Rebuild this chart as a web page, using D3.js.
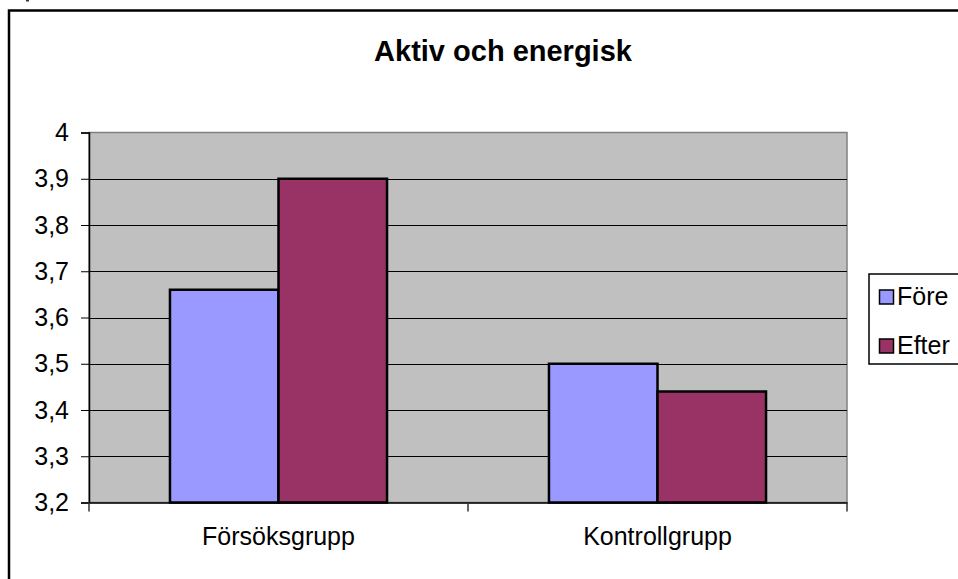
<!DOCTYPE html>
<html><head><meta charset="utf-8">
<script src="https://cdn.jsdelivr.net/npm/d3@7"></script>
<style>body{margin:0;background:#fff;} svg{display:block;font-family:"Liberation Sans",Arial,sans-serif;}</style>
</head><body>
<script>
const title = "Aktiv och energisk";
const categories = ["Försöksgrupp", "Kontrollgrupp"];
const series = ["Före", "Efter"];
const foreValues = [3.66, 3.50];
const efterValues = [3.90, 3.44];
const yTicks = [3.2, 3.3, 3.4, 3.5, 3.6, 3.7, 3.8, 3.9, 4];
const colors = ["#9999FF", "#993366"];

const W = 958, H = 579;
const svg = d3.select("body").append("svg").attr("width", W).attr("height", H);

// outer chart border
svg.append("rect").attr("x", 9).attr("y", 10.5).attr("width", 960).attr("height", 580)
  .attr("fill", "#fff").attr("stroke", "#000").attr("stroke-width", 2.5);
svg.append("line").attr("x1", 26).attr("x2", 29).attr("y1", 0.5).attr("y2", 0.5).attr("stroke", "#333").attr("stroke-width", 2);

const L = 89, R = 847, T = 132.5, B = 502.5;
const y = d3.scaleLinear().domain([3.2, 4]).range([B, T]);
const x0 = d3.scaleBand().domain(categories).range([L, R]).padding(0);
const x1 = d3.scaleBand().domain(series).range([0, x0.bandwidth()]).paddingInner(0).paddingOuter(0.746);

// plot background
svg.append("rect").attr("x", L).attr("y", T).attr("width", R - L).attr("height", B - T)
  .attr("fill", "#C0C0C0").attr("stroke", "#808080").attr("stroke-width", 1.5);

// gridlines
svg.append("g").selectAll("line").data(yTicks.filter(t => t > 3.2 && t < 4)).join("line")
  .attr("x1", L).attr("x2", R).attr("y1", d => Math.round(y(d)) + 0.5).attr("y2", d => Math.round(y(d)) + 0.5)
  .attr("stroke", "#000").attr("stroke-width", 1);

// bars
const data = [];
categories.forEach((c, i) => {
  data.push({cat: c, s: series[0], v: foreValues[i]});
  data.push({cat: c, s: series[1], v: efterValues[i]});
});
svg.append("g").selectAll("rect").data(data).join("rect")
  .attr("x", d => x0(d.cat) + x1(d.s))
  .attr("y", d => y(d.v))
  .attr("width", x1.bandwidth())
  .attr("height", d => B - y(d.v))
  .attr("fill", d => colors[series.indexOf(d.s)])
  .attr("stroke", "#000").attr("stroke-width", 2.5);

// y axis
const yAxis = d3.axisLeft(y).tickValues(yTicks).tickSize(8).tickPadding(12)
  .tickFormat(d => d3.format(".1~f")(d).replace(".", ","));
const gy = svg.append("g").attr("transform", `translate(${L},0)`).call(yAxis);
gy.select(".domain").attr("stroke", "#000").attr("stroke-width", 1.5);
gy.selectAll(".tick line").attr("stroke", "#000");
gy.selectAll("text").attr("font-size", 25).attr("fill", "#000").attr("font-family", "Liberation Sans, Arial, sans-serif");

// x axis
const xAxis = d3.axisBottom(x0).tickSize(0).tickPadding(25);
const gx = svg.append("g").attr("transform", `translate(0,${B})`).call(xAxis);
gx.select(".domain").attr("stroke", "#000").attr("stroke-width", 1.5);
gx.selectAll("text").attr("font-size", 25).attr("fill", "#000").attr("font-family", "Liberation Sans, Arial, sans-serif");
// category boundary ticks
const bounds = [L, ...categories.map(c => x0(c) + x0.bandwidth())];
svg.append("g").selectAll("line").data(bounds).join("line")
  .attr("x1", d => d).attr("x2", d => d).attr("y1", B).attr("y2", B + 9)
  .attr("stroke", "#333").attr("stroke-width", 1.5);

// title
svg.append("text").attr("x", 503).attr("y", 61).attr("text-anchor", "middle")
  .attr("font-size", 29).attr("font-weight", "bold").attr("fill", "#000").text(title);

// legend
const lg = svg.append("g");
lg.append("rect").attr("x", 869).attr("y", 274).attr("width", 100).attr("height", 90)
  .attr("fill", "#fff").attr("stroke", "#000").attr("stroke-width", 1.5);
series.forEach((s, i) => {
  const yy = 290 + i * 49;
  lg.append("rect").attr("x", 879.5).attr("y", yy).attr("width", 14).attr("height", 14)
    .attr("fill", colors[i]).attr("stroke", "#000").attr("stroke-width", 1.5);
  lg.append("text").attr("x", 897).attr("y", yy + 15).attr("font-size", 25).attr("fill", "#000").text(s);
});
</script>
</body></html>
